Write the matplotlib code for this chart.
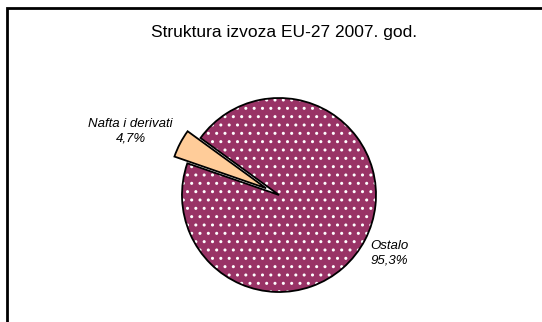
import matplotlib.pyplot as plt
from matplotlib.patches import Rectangle

plt.rcParams['font.family'] = ['Liberation Sans', 'DejaVu Sans']

categories = ['Nafta i derivati', 'Ostalo']
shares = [4.7, 95.3]
colors = ['#FFCC99', '#993366']
explode = [0.15, 0.0]

W, H = 542, 322
fig = plt.figure(figsize=(W / 100, H / 100), dpi=100)

# pie centre and radius in pixels
cx, cy, r = 279, 195, 97
lim = 1.8
ax = fig.add_axes([(cx - lim * r) / W, (H - cy - lim * r) / H,
                   2 * lim * r / W, 2 * lim * r / H])
ax.axis('off')

# filled wedges with white dotted hatch, then black outlines on top
wedges, _ = ax.pie(shares, colors=colors, explode=explode, startangle=144,
                   counterclock=True, radius=1,
                   wedgeprops=dict(edgecolor='white', linewidth=0))
wedges[1].set_hatch('..')
wedges[0].set_edgecolor(colors[0])
outline, _ = ax.pie(shares, colors=['none', 'none'], explode=explode,
                    startangle=144, counterclock=True, radius=1,
                    wedgeprops=dict(edgecolor='black', linewidth=1.3))
ax.set_xlim(-lim, lim)
ax.set_ylim(-lim, lim)
ax.set_aspect('equal')

ax.text(-1.53, 0.66, f"{categories[0]}\n{shares[0]:.1f}%".replace('.', ','),
        ha='center', va='center', fontsize=9.5, style='italic',
        linespacing=1.3)
ax.text(0.94, -0.60, f"{categories[1]}\n{shares[1]:.1f}%".replace('.', ','),
        ha='left', va='center', fontsize=9.5, style='italic',
        linespacing=1.3)

fig.text(284 / W, 1 - 33 / H, 'Struktura izvoza EU-27 2007. god.',
         ha='center', va='center', fontsize=12.5)

# chart frame, only top and left edges fall inside the image
fig.patches.append(Rectangle((7 / W, -0.1), 1.2, 1 - 8 / H + 0.1,
                             transform=fig.transFigure, fill=False,
                             edgecolor='black', linewidth=2))

fig.savefig('out.png', dpi=100)
